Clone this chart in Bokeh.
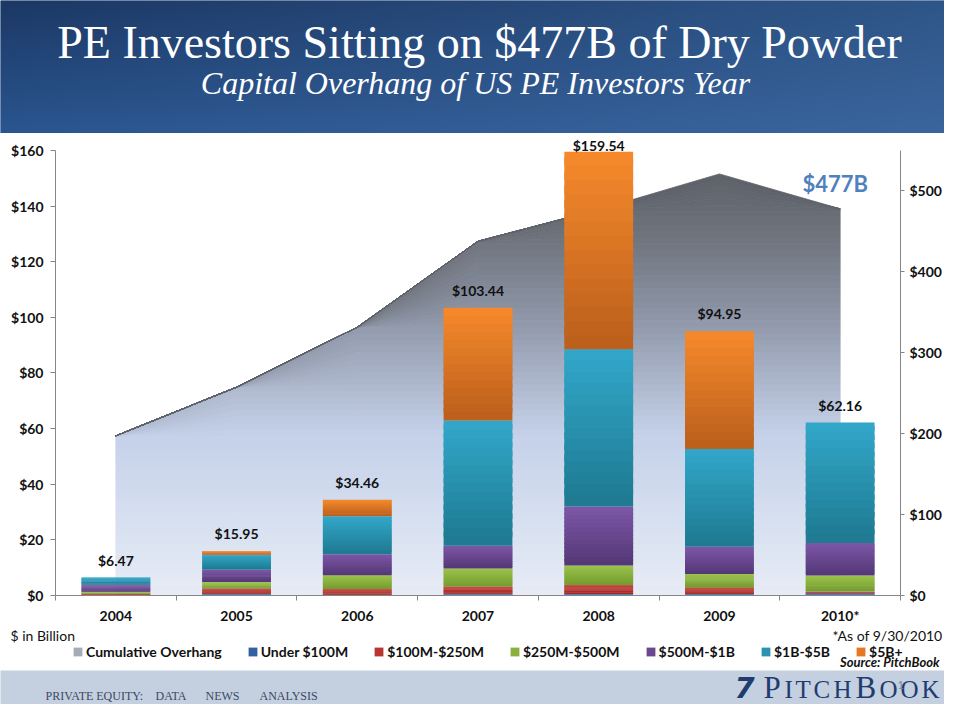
import numpy as np
from bokeh.plotting import figure
from bokeh.models import (Range1d, LinearAxis, FixedTicker, ColumnDataSource, LabelSet,
                          Label, Legend, LegendItem, PrintfTickFormatter)
from bokeh.layouts import column
from bokeh.embed import file_html
from bokeh.resources import INLINE
from bokeh.core.properties import value

# ---------------- data ----------------
years = ["2004", "2005", "2006", "2007", "2008", "2009", "2010*"]
under_100m = [0.20, 0.50, 0.30, 0.50, 0.50, 0.50, 0.80]
m100_250 = [0.40, 2.00, 2.00, 2.70, 3.30, 2.40, 0.60]
m250_500 = [0.75, 2.38, 5.00, 6.50, 7.00, 4.80, 5.80]
m500_1b = [2.38, 4.40, 7.50, 8.20, 21.20, 9.80, 11.70]
b1_5 = [2.74, 5.36, 13.70, 45.00, 56.50, 35.20, 43.26]
b5_plus = [0.00, 1.31, 5.96, 40.54, 71.04, 42.25, 0.00]
totals = [6.47, 15.95, 34.46, 103.44, 159.54, 94.95, 62.16]
overhang = [197, 257, 331, 437, 476, 520, 477]
left_ticks = [0, 20, 40, 60, 80, 100, 120, 140, 160]
right_ticks = [0, 100, 200, 300, 400, 500]

series_names = ["Under $100M", "$100M-$250M", "$250M-$500M", "$500M-$1B", "$1B-$5B", "$5B+"]
series_vals = [under_100m, m100_250, m250_500, m500_1b, b1_5, b5_plus]
series_cols = [("#3D70B4", "#285290"), ("#C9433B", "#9E2824"), ("#9CC24C", "#739C2E"),
               ("#7E57A8", "#533775"), ("#32A8CA", "#1E7890"), ("#F68A2C", "#BA5E1B")]
legend_cols = ["#34609F", "#B8362F", "#8AB03E", "#6A4890", "#2A93B0", "#E57824"]

FONT = "Lato"
INK = "#111111"


def hex2rgb(h):
    h = h.lstrip("#")
    return np.array([int(h[i:i + 2], 16) for i in (0, 2, 4)], dtype=float)


def rgb2hex(c):
    c = np.clip(np.round(c), 0, 255).astype(int)
    return "#%02x%02x%02x" % tuple(c)


def mix(c1, c2, t):
    return rgb2hex(hex2rgb(c1) * (1 - t) + hex2rgb(c2) * t)


area_stops = [(0, "#E7ECF6"), (200, "#C4D1E9"), (330, "#939BAD"), (440, "#6F747E"), (545, "#595C63")]


def area_color(v):
    for (v0, c0), (v1, c1) in zip(area_stops[:-1], area_stops[1:]):
        if v <= v1:
            return mix(c0, c1, (v - v0) / (v1 - v0))
    return area_stops[-1][1]


def blank(fig, fill):
    fig.axis.visible = False
    fig.grid.visible = False
    fig.outline_line_color = None
    fig.title.visible = False
    fig.background_fill_color = fill
    fig.border_fill_color = fill


W = 944
# ---------------- header ----------------
HH = 133
hdr = figure(width=W, height=HH, x_range=Range1d(0, W), y_range=Range1d(0, HH),
             output_backend="svg", toolbar_location=None, min_border=0)
blank(hdr, "#24497F")

yy = np.linspace(0, 1, HH)[:, None]      # row 0 = bottom
xx = np.linspace(0, 1, W)[None, :]
c_top_l, c_top_r = hex2rgb("#1C3865"), hex2rgb("#2F5688")
c_bot_l, c_bot_r = hex2rgb("#2A5690"), hex2rgb("#3A659E")
top = c_top_l[None, None, :] * (1 - xx[..., None]) + c_top_r[None, None, :] * xx[..., None]
bot = c_bot_l[None, None, :] * (1 - xx[..., None]) + c_bot_r[None, None, :] * xx[..., None]
rgb = bot * (1 - yy[..., None]) + top * yy[..., None]
img = np.empty((HH, W), dtype=np.uint32)
view = img.view(dtype=np.uint8).reshape((HH, W, 4))
view[..., 0] = rgb[..., 0]
view[..., 1] = rgb[..., 1]
view[..., 2] = rgb[..., 2]
view[..., 3] = 255
hdr.image_rgba(image=[img], x=0, y=0, dw=W, dh=HH)

hdr.add_layout(Label(x=479, y=91, text="PE Investors Sitting on $477B of Dry Powder",
                     text_align="center", text_baseline="middle", text_color="white",
                     text_font="Liberation Serif", text_font_size="46px"))
hdr.add_layout(Label(x=479, y=51, text="Capital Overhang of US PE Investors  Year",
                     text_align="center", text_baseline="middle", text_color="white",
                     text_font="Liberation Serif", text_font_style="italic", text_font_size="32px"))

# ---------------- main chart ----------------
MH = 493
FRAME_H = 465            # frame height in px (top of panel to zero line)
left_end = FRAME_H / 2.8
right_end = FRAME_H / 0.816
p = figure(width=W, height=MH, x_range=Range1d(-0.5, len(years) - 0.5),
           y_range=Range1d(0, left_end), output_backend="svg", toolbar_location=None,
           min_border_left=55, min_border_right=39, min_border_top=0, min_border_bottom=28)
p.extra_y_ranges = {"right": Range1d(0, right_end)}
p.grid.visible = False
p.outline_line_color = None
p.title.visible = False
p.background_fill_color = "white"
p.border_fill_color = "white"

xi = list(range(len(years)))

# cumulative overhang area with vertical gradient (bands)
levels = np.linspace(0, 545, 70)
pxs, pys, pcols = [], [], []
for a, b in zip(levels[:-1], levels[1:]):
    if max(overhang) <= a:
        continue
    t_edge = [min(v, b) for v in overhang]
    b_edge = [min(v, a) for v in overhang]
    pxs.append(xi + xi[::-1])
    pys.append(t_edge + b_edge[::-1])
    pcols.append(area_color((a + b) / 2))
p.patches(pxs, pys, fill_color=pcols, line_color=pcols, line_width=0.8, y_range_name="right")

# stacked bars with per-segment vertical gradient (slices overlap slightly to hide seams)
N = 14
bx, bb, bt, bc = [], [], [], []
cum = np.zeros(len(years))
for vals, (ctop, cbot) in zip(series_vals, series_cols):
    for i, v in enumerate(vals):
        if v <= 0:
            continue
        for k in range(N):
            bx.append(i)
            bb.append(cum[i] + v * k / N)
            over = 0.6 * v / N if k < N - 1 else 0.0
            bt.append(cum[i] + v * (k + 1) / N + over)
            bc.append(mix(cbot, ctop, (k + 0.5) / N))
    cum += np.array(vals)
p.vbar(x=bx, bottom=bb, top=bt, width=0.57, fill_color=bc, line_color=None)

# total labels (the tallest is kept inside the panel, as in the original)
lab_src = ColumnDataSource(dict(x=xi, y=np.minimum(totals, 155.4),
                                text=["$%.2f" % t for t in totals]))
p.add_layout(LabelSet(x="x", y="y", text="text", source=lab_src, text_align="center",
                      text_baseline="bottom", y_offset=9, text_font=value(FONT),
                      text_font_style="bold", text_font_size="14px", text_color=INK))

p.add_layout(Label(x=len(years) - 1, y=overhang[-1], y_range_name="right",
                   text="$%dB" % overhang[-1], text_align="center", text_baseline="bottom",
                   x_offset=-5, y_offset=12, text_font=FONT, text_font_style="bold",
                   text_font_size="22px", text_color="#4F81BD"))

# axes
AX = "#868686"
yl = p.yaxis[0]
yl.ticker = FixedTicker(ticks=left_ticks)
yl.bounds = (left_ticks[0], left_ticks[-1])
yr = LinearAxis(y_range_name="right", ticker=FixedTicker(ticks=right_ticks),
                bounds=(0, left_ticks[-1] * 2.8 / 0.816))
p.add_layout(yr, "right")
for ax in (yl, yr):
    ax.formatter = PrintfTickFormatter(format="$%d")
    ax.axis_line_color = AX
    ax.major_tick_line_color = AX
    ax.major_tick_in = 0
    ax.minor_tick_line_color = None
    ax.major_label_text_font = FONT
    ax.major_label_text_font_style = "bold"
    ax.major_label_text_font_size = "14px"
    ax.major_label_text_color = INK
yl.major_tick_out = 5
yl.major_label_standoff = 7
yr.major_tick_out = 4
yr.major_label_standoff = 5

xa = p.xaxis[0]
xa.ticker = FixedTicker(ticks=xi, minor_ticks=[i - 0.5 for i in range(len(years) + 1)])
xa.major_label_overrides = {i: y for i, y in enumerate(years)}
xa.axis_line_color = AX
xa.major_tick_line_color = None
xa.major_tick_out = 0
xa.major_tick_in = 0
xa.minor_tick_line_color = AX
xa.minor_tick_out = 5
xa.minor_tick_in = 0
xa.major_label_standoff = 6
xa.major_label_text_font = FONT
xa.major_label_text_font_style = "bold"
xa.major_label_text_font_size = "14px"
xa.major_label_text_color = INK

# ---------------- legend / notes strip ----------------
SH = 44
strip = figure(width=W, height=SH, x_range=Range1d(0, W), y_range=Range1d(0, SH),
               output_backend="svg", toolbar_location=None, min_border=0)
blank(strip, "white")
items = []
nan1 = np.array([np.nan])
r_area = strip.vbar(x=nan1, top=nan1, width=1, fill_color="#A6ABB7", line_color=None)
items.append(LegendItem(label="Cumulative Overhang", renderers=[r_area]))
for name, col in zip(series_names, legend_cols):
    r = strip.vbar(x=nan1, top=nan1, width=1, fill_color=col, line_color=None)
    items.append(LegendItem(label=name, renderers=[r]))
legend = Legend(items=items, orientation="horizontal", location=(72, 10),
                label_text_font=FONT, label_text_font_style="bold", label_text_font_size="14px",
                label_text_color=INK, glyph_width=11, glyph_height=11, label_standoff=3,
                spacing=25, padding=0, margin=0, border_line_color=None, background_fill_alpha=0)
strip.add_layout(legend)
strip.add_layout(Label(x=10, y=35, text="$ in Billion", text_align="left", text_baseline="middle",
                       text_font=FONT, text_font_size="14px", text_color=INK))
strip.add_layout(Label(x=942, y=35, text="*As of 9/30/2010", text_align="right",
                       text_baseline="middle", text_font=FONT, text_font_size="14px",
                       text_color=INK))
strip.add_layout(Label(x=939, y=9, text="Source: PitchBook", text_align="right",
                       text_baseline="middle", text_font=FONT, text_font_style="bold italic",
                       text_font_size="13px", text_color=INK))

# ---------------- footer ----------------
FH = 34
ftr = figure(width=W, height=FH, x_range=Range1d(0, W), y_range=Range1d(0, FH),
             output_backend="svg", toolbar_location=None, min_border=0)
blank(ftr, "#C4CFE0")
for xpos, txt in [(45, "PRIVATE EQUITY:"), (155, "DATA"), (205, "NEWS"), (259, "ANALYSIS")]:
    ftr.add_layout(Label(x=xpos, y=9, text=txt, text_align="left", text_baseline="middle",
                         text_font="Liberation Serif", text_font_size="12px",
                         text_color="#3B4A62"))
ftr.add_layout(Label(x=734, y=17, text="7", text_align="left", text_baseline="middle",
                     text_font="DejaVu Sans", text_font_style="bold italic",
                     text_font_size="29px", text_color="#1F3C6E"))
for xpos, ch, fs, yy_ in [(763, "P", "31px", 17), (784, "I", "25px", 15), (795, "T", "25px", 15),
                          (813, "C", "25px", 15), (833, "H", "25px", 15), (855, "B", "31px", 17),
                          (879, "O", "25px", 15), (900, "O", "25px", 15), (921, "K", "25px", 15)]:
    ftr.add_layout(Label(x=xpos, y=yy_, text=ch, text_align="left", text_baseline="middle",
                         text_font="Liberation Serif", text_font_size=fs, text_color="#1F3C6E"))
ftr.add_layout(Label(x=897, y=20, text="1", text_align="left", text_baseline="middle",
                     text_font=FONT, text_font_size="11px", text_color="#7A8699"))

layout = column(column(hdr), column(p), column(strip), column(ftr), spacing=0)
open("out.html", "w").write(file_html(layout, INLINE))
